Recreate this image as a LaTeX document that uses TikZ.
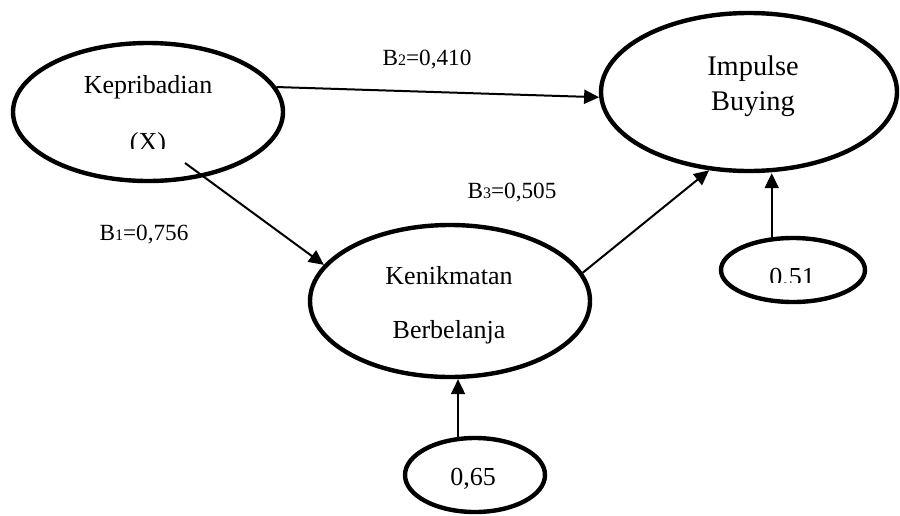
\documentclass[tikz,border=0pt]{standalone}
\usepackage{fontspec}
\setmainfont{Liberation Serif}
\usetikzlibrary{arrows.meta,shapes.geometric}
% small index digit sitting on the baseline
\newcommand{\idx}[1]{{\fontsize{8}{8}\selectfont #1}}
\begin{document}
\begin{tikzpicture}[x=0.5pt,y=-0.5pt,
  latent/.style={draw, line width=2.2pt, ellipse, inner sep=0pt},
  word/.style={anchor=base, inner sep=0pt, font=\fontsize{13}{15}\selectfont},
  bigword/.style={anchor=base, inner sep=0pt, font=\fontsize{14.2}{16}\selectfont},
  coef/.style={anchor=base, inner sep=0pt, font=\fontsize{11.6}{14}\selectfont},
  path/.style={line width=1pt, -{Triangle[length=7.5pt,width=7pt]}}]
\useasboundingbox (0,0) rectangle (900,515);

% latent variables
\node[latent, minimum width=135pt, minimum height=69pt] (kp) at (148,112) {};
\node[latent, minimum width=148pt, minimum height=79pt] (ib) at (749,92) {};
\node[latent, minimum width=140pt, minimum height=76pt] (kb) at (450,301) {};
% residual terms
\node[latent, minimum width=72pt, minimum height=32pt] (e51) at (793,270) {};
\node[latent, minimum width=70pt, minimum height=37pt] (e65) at (475,475) {};

% variable names
\node[word] (kpa) at (148,93) {Kepribadian};
\begin{scope}
  \clip (100,118) rectangle (200,148);
  \node[word] (kpb) at (148,150) {(X)};
\end{scope}
\node[bigword] (iba) at (753,75) {Impulse};
\node[bigword] (ibb) at (753,110) {Buying};
\node[word] (kba) at (449,284) {Kenikmatan};
\node[word] (kbb) at (449,338) {Berbelanja};
\begin{scope}
  \clip (740,255) rectangle (845,282);
  \node[word] (e51t) at (792,285) {0,51};
\end{scope}
\node[word] (e65t) at (473,485) {0,65};

% path coefficients
\node[coef] (b2) at (427,65) {B\idx{2}=0,410};
\node[coef] (b1) at (144,240) {B\idx{1}=0,756};
\node[coef] (b3) at (512,198) {B\idx{3}=0,505};

% structural paths
\draw[path] (kp.11) -- (ib.182);
\draw[path] ([shift={(37,51)}]kp.center) -- (kb.164);
\draw[path] (kb.12) -- (ib.243);
\draw[path] (e51.123) -- (e51.123 |- ib.south);
\draw[path] (e65.114) -- (e65.114 |- kb.south);
\end{tikzpicture}
\end{document}
